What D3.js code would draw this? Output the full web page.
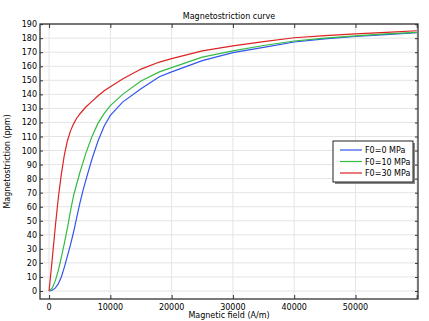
<!DOCTYPE html>
<html>
<head>
<meta charset="utf-8">
<script src="https://cdn.jsdelivr.net/npm/d3@7"></script>
<style>
  body { margin: 0; background: #fff; }
  text { font-family: "DejaVu Sans", sans-serif; fill: #000; }
</style>
</head>
<body>
<svg id="chart" width="429" height="321"></svg>
<script>
// magnetic field (A/m)
var field = [0, 500, 1000, 1500, 2000, 2500, 3000, 3500, 4000, 4500, 5000, 5500, 6000, 7000, 8000, 9000, 10000,
  12000, 15000, 18000, 20000, 25000, 30000, 35000, 40000, 45000, 50000, 55000, 60000];
// magnetostriction (ppm) per prestress
var f0_0 = [0, 0.5, 2, 5, 10, 17, 25, 33, 42, 52, 62, 71, 79, 94, 107, 117.5, 125,
  134.5, 144, 152.5, 156, 164, 169.7, 173.5, 177.3, 179.5, 181.2, 182.6, 183.9];
var f0_10 = [0, 2, 7, 14.5, 24, 34, 45, 57, 68, 76, 84, 91, 98, 110, 119.5, 126.5, 132,
  140, 149.5, 156, 159, 166.5, 171, 174.8, 178, 180, 181.6, 183, 184.2];
var f0_30 = [0, 22, 45, 66, 83, 97, 107, 114, 119, 123, 126, 128.5, 131, 135, 139, 142.5, 145.5,
  151, 158, 163, 165.5, 171, 174.5, 177.5, 180.3, 181.8, 183, 184.2, 185.3];
var seriesNames = ["F0=0 MPa", "F0=10 MPa", "F0=30 MPa"];
var seriesColors = ["#3355ee", "#33bb44", "#dd2222"];
var xTicks = [0, 10000, 20000, 30000, 40000, 50000, 60000];
var yTicks = d3.range(0, 191, 10);

var svg = d3.select("#chart");
var plotLeft = 40, plotRight = 418, plotTop = 24, plotBottom = 299;

var x = d3.scaleLinear().domain([-1480, 60200]).range([plotLeft, plotRight]);
var y = d3.scaleLinear().domain([-5.7, 190.1]).range([plotBottom, plotTop]);

// grid
svg.append("g").selectAll("line").data(xTicks).enter().append("line")
  .attr("x1", d => x(d)).attr("x2", d => x(d))
  .attr("y1", plotTop).attr("y2", plotBottom)
  .attr("stroke", "#e4e4e4").attr("stroke-width", 1);
svg.append("g").selectAll("line").data(yTicks).enter().append("line")
  .attr("x1", plotLeft).attr("x2", plotRight)
  .attr("y1", d => y(d)).attr("y2", d => y(d))
  .attr("stroke", "#e4e4e4").attr("stroke-width", 1);

// curves
var allSeries = [f0_0, f0_10, f0_30];
var line = d3.line().x((d, i) => x(field[i])).y(d => y(d));
svg.append("g").selectAll("path").data(allSeries).enter().append("path")
  .attr("d", d => line(d))
  .attr("fill", "none")
  .attr("stroke", (d, i) => seriesColors[i])
  .attr("stroke-width", 1.2);

// axes with inward ticks
svg.append("g").attr("transform", "translate(0," + plotBottom + ")")
  .call(d3.axisTop(x).tickValues(xTicks).tickSize(4).tickFormat(""))
  .call(g => g.select(".domain").remove());
svg.append("g").attr("transform", "translate(0," + plotTop + ")")
  .call(d3.axisBottom(x).tickValues(xTicks).tickSize(4).tickFormat(""))
  .call(g => g.select(".domain").remove());
svg.append("g").attr("transform", "translate(" + plotLeft + ",0)")
  .call(d3.axisRight(y).tickValues(yTicks).tickSize(3).tickFormat(""))
  .call(g => g.select(".domain").remove());
svg.append("g").attr("transform", "translate(" + plotRight + ",0)")
  .call(d3.axisLeft(y).tickValues(yTicks).tickSize(3).tickFormat(""))
  .call(g => g.select(".domain").remove());
svg.selectAll(".tick line").attr("stroke", "#333");

// frame
svg.append("rect")
  .attr("x", plotLeft).attr("y", plotTop)
  .attr("width", plotRight - plotLeft).attr("height", plotBottom - plotTop)
  .attr("fill", "none").attr("stroke", "#333").attr("stroke-width", 1.3);

// tick labels
svg.append("g").selectAll("text").data(xTicks.slice(0, 6)).enter().append("text")
  .attr("x", d => x(d)).attr("y", 310)
  .attr("text-anchor", "middle").attr("font-size", "8px")
  .text(d => d);
svg.append("g").selectAll("text").data(yTicks).enter().append("text")
  .attr("x", 37).attr("y", d => y(d) + 3)
  .attr("text-anchor", "end").attr("font-size", "8px")
  .text(d => d);

// titles
svg.append("text").attr("x", (plotLeft + plotRight) / 2).attr("y", 19)
  .attr("text-anchor", "middle").attr("font-size", "8px")
  .text("Magnetostriction curve");
svg.append("text").attr("x", (plotLeft + plotRight) / 2).attr("y", 318)
  .attr("text-anchor", "middle").attr("font-size", "8px")
  .text("Magnetic field (A/m)");
svg.append("text")
  .attr("transform", "translate(10," + (plotTop + plotBottom) / 2 + ") rotate(-90)")
  .attr("text-anchor", "middle").attr("font-size", "8px")
  .text("Magnetostriction (ppm)");

// legend
var legend = svg.append("g").attr("transform", "translate(333,141)");
legend.append("rect").attr("x", 2).attr("y", 2).attr("width", 80).attr("height", 41)
  .attr("fill", "#888");
legend.append("rect").attr("width", 80).attr("height", 41)
  .attr("fill", "#fff").attr("stroke", "#222").attr("stroke-width", 1);
legend.selectAll(".legendLine").data(seriesNames).enter().append("line")
  .attr("class", "legendLine")
  .attr("x1", 7).attr("x2", 29)
  .attr("y1", (d, i) => 9 + i * 11.5).attr("y2", (d, i) => 9 + i * 11.5)
  .attr("stroke", (d, i) => seriesColors[i]).attr("stroke-width", 1.2);
legend.selectAll(".legendText").data(seriesNames).enter().append("text")
  .attr("class", "legendText")
  .attr("x", 32).attr("y", (d, i) => 12 + i * 11.5)
  .attr("font-size", "8px")
  .text(d => d);
</script>
</body>
</html>
